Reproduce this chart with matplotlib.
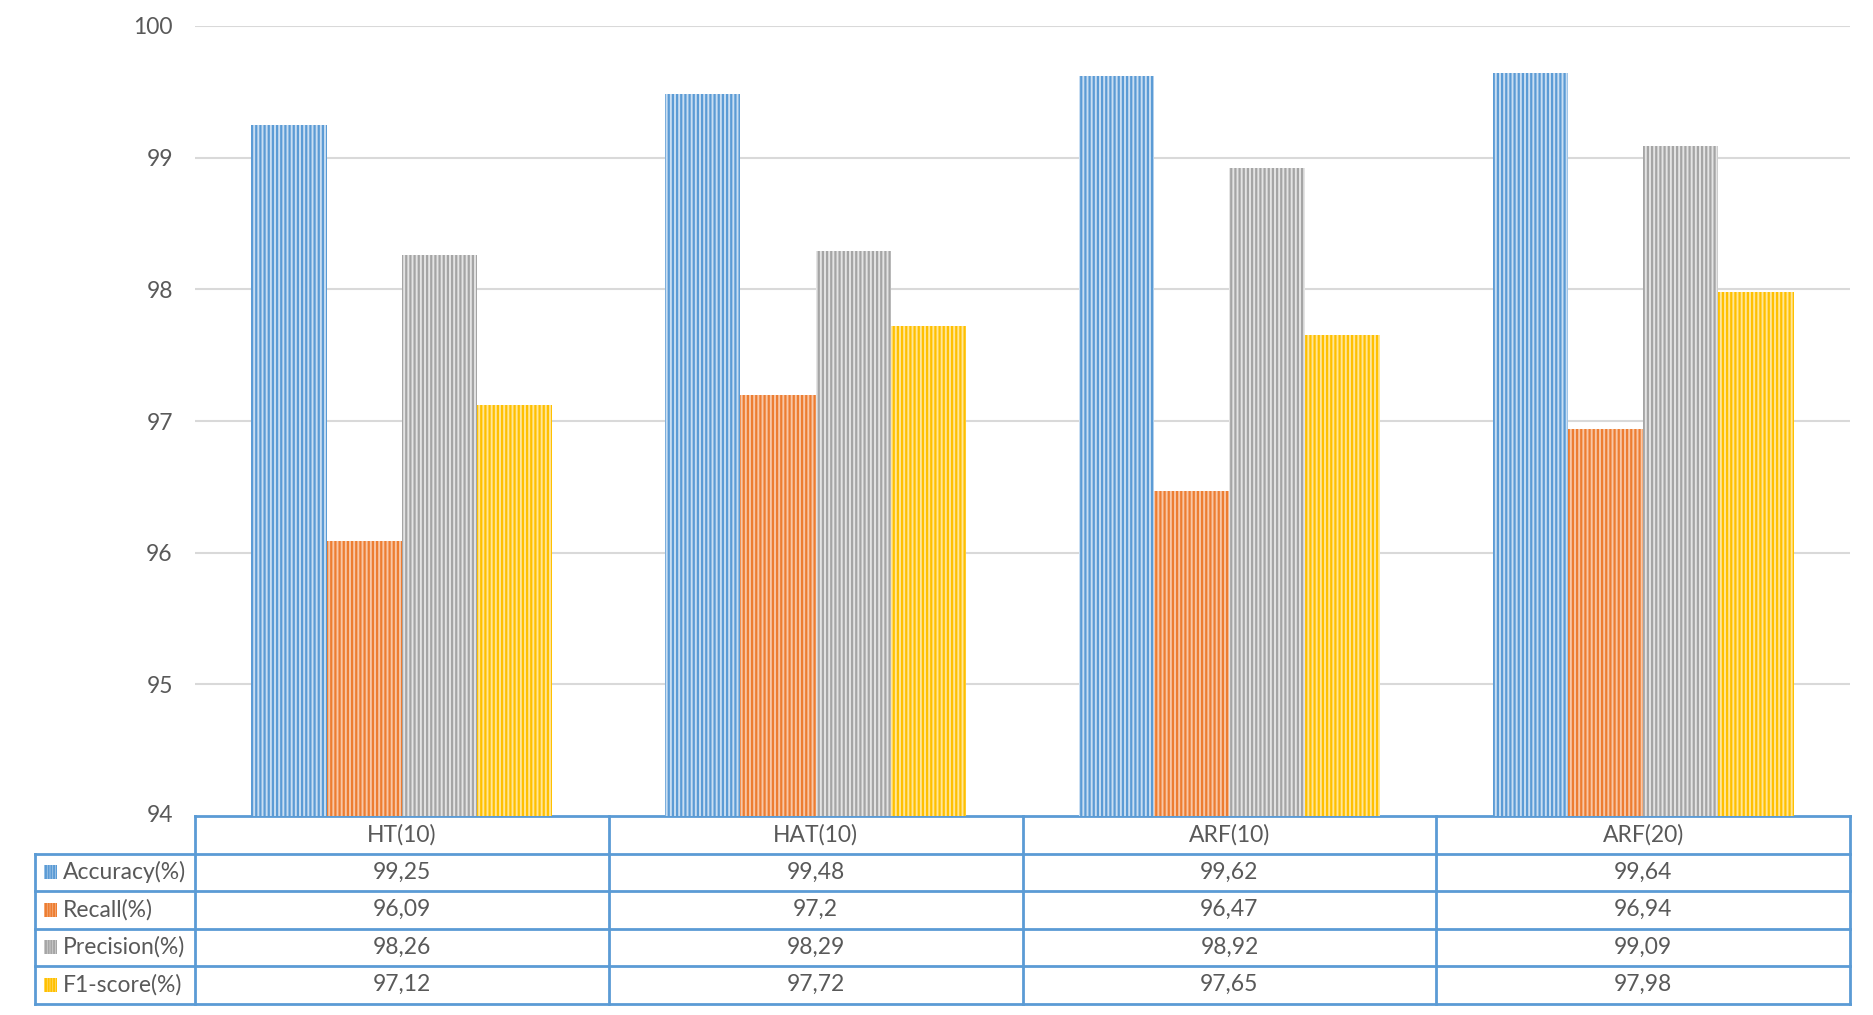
import matplotlib.pyplot as plt
import matplotlib.transforms as mtransforms
import numpy as np

# data
models = ['HT(10)', 'HAT(10)', 'ARF(10)', 'ARF(20)']
metrics = ['Accuracy(%)', 'Recall(%)', 'Precision(%)', 'F1-score(%)']
accuracy = [99.25, 99.48, 99.62, 99.64]
recall = [96.09, 97.2, 96.47, 96.94]
precision = [98.26, 98.29, 98.92, 99.09]
f1_score = [97.12, 97.72, 97.65, 97.98]
series = [accuracy, recall, precision, f1_score]
yticks = [94, 95, 96, 97, 98, 99, 100]

# colours: stripe colour and lighter fill underneath
stripe_colors = ['#5B9BD5', '#ED7D31', '#A5A5A5', '#FFC000']
fill_colors = ['#C9DEF2', '#F8C7A6', '#E4E4E4', '#FFE699']
text_color = '#595959'
table_color = '#5B9BD5'
fs = 16.5

plt.rcParams['font.family'] = ['Lato', 'DejaVu Sans']
plt.rcParams['hatch.linewidth'] = 1.6

W, H = 1873, 1015
fig = plt.figure(figsize=(W / 100, H / 100), dpi=100)
left_px, right_px, top_px, bottom_px = 195, 1850, 26, 816
ax = fig.add_axes([left_px / W, 1 - bottom_px / H,
                   (right_px - left_px) / W, (bottom_px - top_px) / H])

x = np.arange(len(models))
bw = 0.182
for i, vals in enumerate(series):
    ax.bar(x + (i - 1.5) * bw, vals, bw, color=fill_colors[i],
           edgecolor=stripe_colors[i], hatch='||||', linewidth=0, zorder=3)

ax.set_xlim(-0.5, len(models) - 0.5)
ax.set_ylim(94, 100)
ax.set_yticks(yticks[1:])
ax.set_yticklabels([str(t) for t in yticks[1:]])
ax.set_xticks([])
ax.tick_params(axis='y', length=0, pad=16, labelsize=fs, labelcolor=text_color)
ax.grid(axis='y', color='#D9D9D9', linewidth=1.5, zorder=0)
for s in ax.spines.values():
    s.set_visible(False)

trans = mtransforms.blended_transform_factory(ax.transData, ax.transAxes)
# the 94 label sits beside the table top
ax.text(-0.5 - 22 / 414, 0, str(yticks[0]), transform=trans,
        ha='right', va='center', fontsize=fs, color=text_color)

# data table beneath the axes
unit = 1 / (bottom_px - top_px)  # axes fraction per pixel
row_h = 37.5 * unit
label_left = -0.5 - (left_px - 35) / 414
lw = 2
n_rows = len(metrics)
table_bottom = -(1 + n_rows) * row_h

line_kw = dict(color=table_color, linewidth=lw, transform=trans, clip_on=False)
# horizontal lines
ax.plot([-0.5, 3.5], [0, 0], **line_kw)
for r in range(1, n_rows + 2):
    ax.plot([label_left, 3.5], [-r * row_h, -r * row_h], **line_kw)
# vertical lines
for c in range(len(models) + 1):
    ax.plot([c - 0.5, c - 0.5], [0, table_bottom], **line_kw)
ax.plot([label_left, label_left], [-row_h, table_bottom], **line_kw)

for c, name in enumerate(models):
    ax.text(c, -0.5 * row_h, name, transform=trans, ha='center', va='center',
            fontsize=fs, color=text_color)
    for r, vals in enumerate(series):
        ax.text(c, -(r + 1.5) * row_h, str(vals[c]).replace('.', ','),
                transform=trans, ha='center', va='center', fontsize=fs, color=text_color)

for r, name in enumerate(metrics):
    yc = -(r + 1.5) * row_h
    ax.add_patch(plt.Rectangle((label_left + 9 / 414, yc - 7 * unit), 13 / 414, 14 * unit,
                               facecolor=fill_colors[r], edgecolor=stripe_colors[r],
                               hatch='||||||', linewidth=0, transform=trans, clip_on=False))
    ax.text(label_left + 28 / 414, yc, name, transform=trans, ha='left', va='center',
            fontsize=fs, color=text_color)

fig.savefig('out.png', dpi=100)
